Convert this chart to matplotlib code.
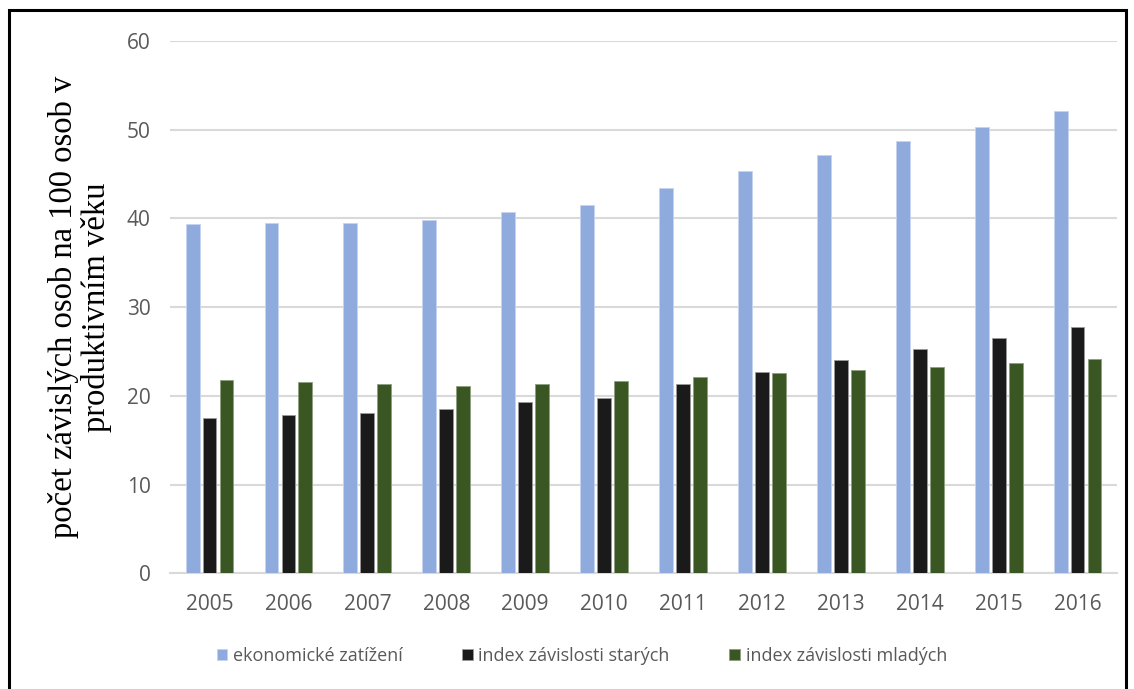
import matplotlib
matplotlib.use("Agg")
import matplotlib.pyplot as plt
from matplotlib.patches import Rectangle
import numpy as np

years = ["2005", "2006", "2007", "2008", "2009", "2010",
         "2011", "2012", "2013", "2014", "2015", "2016"]
ekonomicke_zatizeni = [39.4, 39.5, 39.5, 39.8, 40.7, 41.5, 43.4, 45.4, 47.2, 48.7, 50.3, 52.1]
index_starych = [17.5, 17.8, 18.1, 18.5, 19.3, 19.7, 21.3, 22.7, 24.0, 25.3, 26.5, 27.8]
index_mladych = [21.8, 21.6, 21.3, 21.1, 21.3, 21.7, 22.1, 22.6, 22.9, 23.3, 23.7, 24.2]

series_labels = ["ekonomické zatížení", "index závislosti starých", "index závislosti mladých"]
colors = ["#8faadc", "#1a1a1a", "#3a5723"]
edges = ["#c5d3ef", "#9a9a9a", "#8da07f"]

fig = plt.figure(figsize=(11.34, 6.89), dpi=100)
ax = fig.add_axes([0.150, 0.168, 0.835, 0.7725])

x = np.arange(len(years))
width = 0.176
spacing = 0.215
for i, (vals, c, ec, lab) in enumerate(zip(
        [ekonomicke_zatizeni, index_starych, index_mladych], colors, edges, series_labels)):
    ax.bar(x + (i - 1) * spacing, vals, width=width, color=c, edgecolor=ec,
           linewidth=0.6, label=lab, zorder=3)

ax.set_xlim(-0.5, len(years) - 0.5)
ax.set_ylim(0, 60)
ax.set_yticks(range(0, 61, 10))
ax.set_xticks(x)
ax.set_xticklabels(years)

ax.grid(axis="y", color="#d9d9d9", linewidth=1.5, zorder=0)
for side in ["top", "right", "left"]:
    ax.spines[side].set_visible(False)
ax.spines["bottom"].set_color("#d9d9d9")
ax.spines["bottom"].set_linewidth(1.5)
ax.tick_params(axis="both", length=0, labelsize=15, labelcolor="#595959")
ax.tick_params(axis="y", pad=14)
ax.tick_params(axis="x", pad=15)
for t in ax.get_xticklabels() + ax.get_yticklabels():
    t.set_fontfamily("Open Sans")

ax.set_ylabel("počet závislých osob na 100 osob v\nproduktivním věku",
              fontsize=23.5, family="Liberation Serif", color="#000000",
              linespacing=1.05, labelpad=11)

leg = fig.legend(loc="center", bbox_to_anchor=(0.513, 0.048), ncol=3, frameon=False,
                 prop={"family": "Open Sans", "size": 13},
                 handlelength=0.6, handleheight=0.6, handletextpad=0.3,
                 columnspacing=3.3, labelcolor="#595959")

# frame around the whole chart
fig.patches.append(Rectangle((9 / 1134, -0.05), (1126 - 9) / 1134, 1.05 - 10 / 689,
                             transform=fig.transFigure, fill=False,
                             edgecolor="black", linewidth=2.2, clip_on=False))

fig.savefig("out.png", dpi=100)
